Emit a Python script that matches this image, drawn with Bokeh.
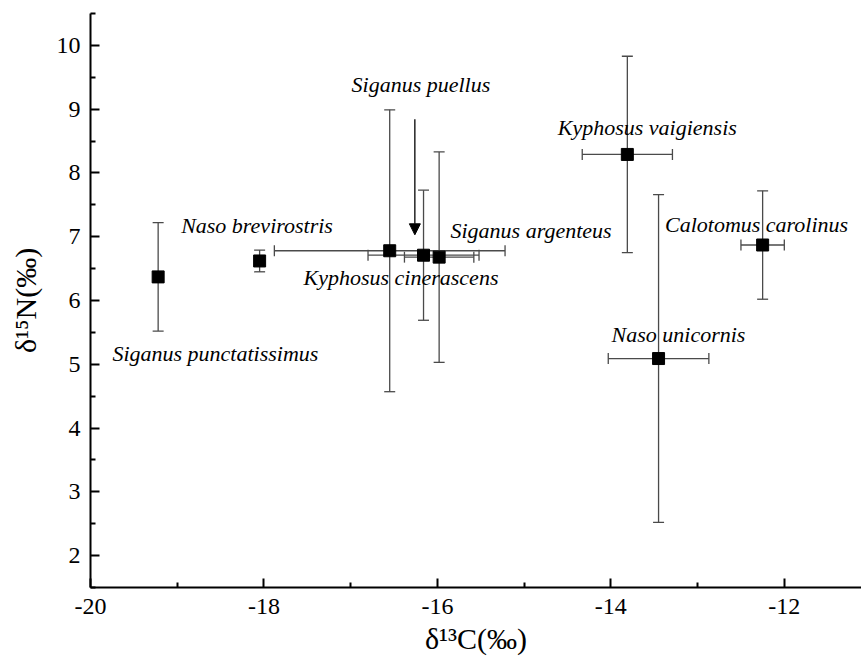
from bokeh.plotting import figure
from bokeh.models import (Range1d, FixedTicker, ColumnDataSource, Whisker,
                          TeeHead, Arrow, NormalHead)
from bokeh.core.properties import value
from bokeh.embed import file_html
from bokeh.resources import INLINE

# ---- data ----
species = ["Siganus punctatissimus", "Naso brevirostris", "Kyphosus cinerascens",
           "Siganus puellus", "Siganus argenteus", "Kyphosus vaigiensis",
           "Naso unicornis", "Calotomus carolinus"]
d13C = [-19.22, -18.05, -16.55, -16.16, -15.98, -13.81, -13.45, -12.25]
d13C_sd = [0.0, 0.0, 1.33, 0.64, 0.40, 0.52, 0.58, 0.25]
d15N = [6.37, 6.62, 6.78, 6.71, 6.68, 8.29, 5.09, 6.87]
d15N_sd = [0.85, 0.17, 2.21, 1.02, 1.65, 1.54, 2.57, 0.85]

label_text = ["Siganus punctatissimus", "Naso brevirostris", "Siganus puellus",
              "Kyphosus cinerascens", "Siganus argenteus", "Kyphosus vaigiensis",
              "Naso unicornis", "Calotomus carolinus"]
label_x = [-18.56, -18.08, -16.19, -16.42, -14.92, -13.58, -13.22, -12.32]
label_y = [5.17, 7.17, 9.39, 6.36, 7.09, 8.72, 5.47, 7.19]

x_ticks = [-20, -18, -16, -14, -12]
x_minor = [-19, -17, -15, -13, -11]
y_ticks = [2, 3, 4, 5, 6, 7, 8, 9, 10]
y_minor = [1.5, 2.5, 3.5, 4.5, 5.5, 6.5, 7.5, 8.5, 9.5, 10.5]
x_title = "δ¹³C(‰)"
y_title = "δ¹⁵N(‰)"

arrow_x = -16.26
arrow_y_start = 8.84
arrow_y_end = 7.03

FONT = "Liberation Serif"

p = figure(width=861, height=662, output_backend="svg", toolbar_location=None,
           x_range=Range1d(-20, -11.11), y_range=Range1d(1.5, 10.5),
           min_border_left=90, min_border_right=0, min_border_top=13,
           min_border_bottom=75)
p.outline_line_color = None
p.xgrid.visible = False
p.ygrid.visible = False
p.background_fill_color = "white"
p.border_fill_color = "white"

p.xaxis.ticker = FixedTicker(ticks=x_ticks, minor_ticks=x_minor)
p.yaxis.ticker = FixedTicker(ticks=y_ticks, minor_ticks=y_minor)
p.xaxis.major_label_overrides = {t: "%d" % t for t in x_ticks}
p.yaxis.major_label_overrides = {t: "%d" % t for t in y_ticks}
for ax in (p.xaxis, p.yaxis):
    ax.axis_line_width = 2
    ax.axis_line_color = "black"
    ax.major_tick_in = 9
    ax.major_tick_out = 0
    ax.minor_tick_in = 5
    ax.minor_tick_out = 0
    ax.major_tick_line_width = 2
    ax.minor_tick_line_width = 2
    ax.major_tick_line_color = "black"
    ax.minor_tick_line_color = "black"
    ax.major_label_text_font = FONT
    ax.major_label_text_font_size = "24px"
    ax.major_label_text_color = "black"
    ax.axis_label_text_font = FONT
    ax.axis_label_text_font_style = "normal"
    ax.axis_label_text_font_size = "30px"
    ax.axis_label_text_color = "black"
p.xaxis.major_label_standoff = 11
p.yaxis.major_label_standoff = 10
p.xaxis.axis_label = x_title
p.yaxis.axis_label = y_title
p.xaxis.axis_label_standoff = 5
p.yaxis.axis_label_standoff = 12

src = ColumnDataSource(dict(
    x=d13C, y=d15N,
    ylo=[v - s for v, s in zip(d15N, d15N_sd)],
    yhi=[v + s for v, s in zip(d15N, d15N_sd)],
))
xs = [(x, y, s) for x, y, s in zip(d13C, d15N, d13C_sd) if s > 0]
srcx = ColumnDataSource(dict(
    y=[t[1] for t in xs],
    xlo=[t[0] - t[2] for t in xs],
    xhi=[t[0] + t[2] for t in xs],
))

ecol = "#4a4a4a"
wy = Whisker(source=src, base="x", lower="ylo", upper="yhi", dimension="height",
             line_color=ecol, line_width=1.3, level="underlay",
             upper_head=TeeHead(size=11, line_color=ecol, line_width=1.3),
             lower_head=TeeHead(size=11, line_color=ecol, line_width=1.3))
wx = Whisker(source=srcx, base="y", lower="xlo", upper="xhi", dimension="width",
             line_color=ecol, line_width=1.3, level="underlay",
             upper_head=TeeHead(size=11, line_color=ecol, line_width=1.3),
             lower_head=TeeHead(size=11, line_color=ecol, line_width=1.3))
p.add_layout(wy)
p.add_layout(wx)

p.scatter("x", "y", source=src, marker="square", size=12, fill_color="black",
          line_color="black")

lsrc = ColumnDataSource(dict(x=label_x, y=label_y, t=label_text))
p.text("x", "y", text="t", source=lsrc, text_font=value(FONT),
       text_font_style="italic", text_font_size="22px", text_align="center",
       text_baseline="middle", text_color="black")

p.add_layout(Arrow(x_start=arrow_x, y_start=arrow_y_start, x_end=arrow_x,
                   y_end=arrow_y_end, line_color="black", line_width=1.3,
                   end=NormalHead(size=11, fill_color="black", line_color="black")))

open("out.html", "w").write(file_html(p, INLINE))
